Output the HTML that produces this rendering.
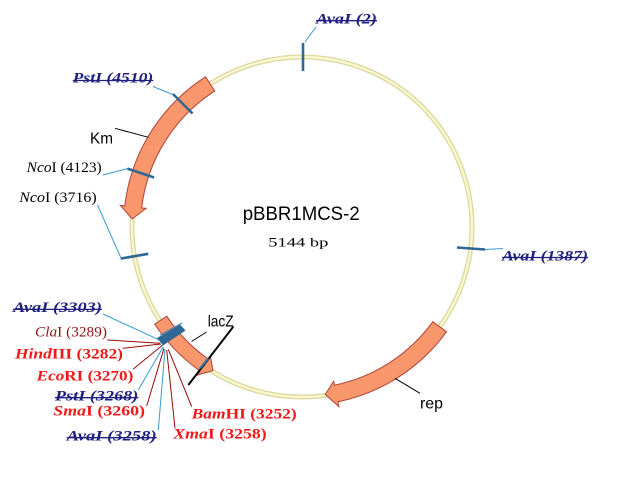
<!DOCTYPE html>
<html><head><meta charset="utf-8"><style>
html,body{margin:0;padding:0;background:#fff;}
svg{display:block}
</style></head>
<body>
<svg width="633" height="479" viewBox="0 0 633 479" xmlns="http://www.w3.org/2000/svg">
<rect width="633" height="479" fill="#fff"/>
<!-- ring -->
<circle cx="302" cy="227" r="170" fill="none" stroke="#dcd89e" stroke-width="5"/>
<circle cx="302" cy="227" r="170" fill="none" stroke="#f9f7d0" stroke-width="2.4"/>

<!-- arrows -->
<g fill="#f8976b" stroke="#b0443a" stroke-width="1" stroke-linejoin="miter">
<path d="M 205.57 76.79 A 178.5 178.5 0 0 0 124.75 205.87 L 120.29 205.33 L 132.19 218.99 L 146.10 208.41 L 141.64 207.88 A 161.5 161.5 0 0 1 214.76 91.10 Z"/>
<path d="M 432.79 321.71 A 161.5 161.5 0 0 1 334.47 385.20 L 333.67 381.28 L 325.23 394.40 L 338.90 406.75 L 337.89 401.86 A 178.5 178.5 0 0 0 446.56 331.69 Z"/>
<path d="M 154.65 324.16 A 176.5 176.5 0 0 0 200.01 371.05 L 197.12 375.13 L 212.94 370.63 L 210.41 356.36 L 208.39 359.21 A 162 162 0 0 1 166.75 316.18 Z"/>
</g>

<!-- light blue leaders -->
<g stroke="#3a9ad0" stroke-width="1" fill="none">
<line x1="305" y1="42" x2="316" y2="27"/>
<line x1="153" y1="86.5" x2="174" y2="95"/>
<line x1="103" y1="175" x2="128" y2="168.5"/>
<line x1="97.5" y1="205" x2="121" y2="258"/>
<line x1="485" y1="249.5" x2="503" y2="248.5"/>
<line x1="103" y1="314" x2="163" y2="341.7"/>
<line x1="138.3" y1="390" x2="163.3" y2="346.7"/>
<line x1="158.3" y1="430" x2="165" y2="349.3"/>
</g>
<!-- dark red leaders -->
<g stroke="#9a0a0a" stroke-width="1" fill="none">
<line x1="107.3" y1="340" x2="160" y2="343.3"/>
<line x1="122.7" y1="348.3" x2="161" y2="344"/>
<line x1="133.3" y1="369" x2="162.7" y2="345"/>
<line x1="146.7" y1="406" x2="164" y2="348.3"/>
<line x1="175" y1="428.3" x2="166.7" y2="350"/>
<line x1="191.7" y1="406.7" x2="168.3" y2="349.3"/>
</g>
<!-- black leaders -->
<g stroke="#000" stroke-width="1" fill="none">
<line x1="115" y1="128.3" x2="148.3" y2="137.3"/>
<line x1="206.5" y1="332" x2="191.5" y2="341.5"/>
<line x1="395" y1="378.3" x2="420" y2="393.3"/>
</g>
<line x1="233.3" y1="326.7" x2="188.3" y2="385" stroke="#000" stroke-width="2"/>
<line x1="200" y1="368.3" x2="208.3" y2="358.3" stroke="#2f79b0" stroke-width="2"/>

<!-- ticks -->
<g stroke="#2f6797" stroke-width="2.6" fill="none">
<line x1="303" y1="43" x2="303" y2="71"/>
<line x1="173" y1="94" x2="192.5" y2="113.5"/>
<line x1="127.5" y1="168.6" x2="154.1" y2="177.5"/>
<line x1="120.7" y1="258.6" x2="148.3" y2="253.8"/>
<line x1="457" y1="247.5" x2="485" y2="249.5"/>
</g>
<polygon points="157,338 180,324.5 185.5,330.5 163,345.5" fill="#2f6797"/>
<line x1="160" y1="335" x2="182" y2="323" stroke="#4a86b8" stroke-width="1"/>

<!-- center text -->
<text x="242.7" y="220" font-family="Liberation Sans, sans-serif" font-size="19" textLength="117" lengthAdjust="spacingAndGlyphs" fill="#000">pBBR1MCS-2</text>
<text x="268.3" y="246.5" font-family="Liberation Serif, serif" font-size="13" textLength="60" lengthAdjust="spacingAndGlyphs" fill="#000">5144 bp</text>

<!-- gene labels -->
<g font-family="Liberation Sans, sans-serif" fill="#000">
<text x="90" y="143.3" font-size="16" textLength="23" lengthAdjust="spacingAndGlyphs">Km</text>
<text x="207.7" y="326.7" font-size="16" textLength="26" lengthAdjust="spacingAndGlyphs">lacZ</text>
<text x="420" y="408.5" font-size="16" textLength="23" lengthAdjust="spacingAndGlyphs">rep</text>
</g>

<!-- site labels -->
<g font-family="Liberation Serif, serif" font-size="15">
<!-- navy struck -->
<g fill="#1f2080" font-weight="bold" font-style="italic">
<text x="316" y="23.3" textLength="61" lengthAdjust="spacingAndGlyphs">AvaI (2)</text>
<text x="72.7" y="82.7" textLength="80.6" lengthAdjust="spacingAndGlyphs">PstI (4510)</text>
<text x="502" y="260.3" textLength="86" lengthAdjust="spacingAndGlyphs">AvaI (1387)</text>
<text x="13" y="312" textLength="89" lengthAdjust="spacingAndGlyphs">AvaI (3303)</text>
<text x="55" y="400.3" textLength="83.3" lengthAdjust="spacingAndGlyphs">PstI (3268)</text>
<text x="66.7" y="440.3" textLength="90" lengthAdjust="spacingAndGlyphs">AvaI (3258)</text>
</g>
<g stroke="#1f2080" stroke-width="1.3">
<line x1="316" y1="20.7" x2="377" y2="20.7"/>
<line x1="72.7" y1="80.5" x2="153.3" y2="80.5"/>
<line x1="502" y1="257.5" x2="588" y2="257.5"/>
<line x1="13" y1="309.4" x2="102" y2="309.4"/>
<line x1="55" y1="397.7" x2="138.3" y2="397.7"/>
<line x1="66.7" y1="437.7" x2="156.7" y2="437.7"/>
</g>
<!-- black NcoI -->
<g fill="#000">
<text x="26.7" y="172" textLength="75" lengthAdjust="spacingAndGlyphs"><tspan font-style="italic">Nco</tspan>I (4123)</text>
<text x="19.3" y="202" textLength="77.4" lengthAdjust="spacingAndGlyphs"><tspan font-style="italic">Nco</tspan>I (3716)</text>
</g>
<!-- maroon ClaI -->
<text x="35" y="336.7" fill="#8b1616" textLength="72" lengthAdjust="spacingAndGlyphs"><tspan font-style="italic">Cla</tspan>I (3289)</text>
<!-- red bold -->
<g fill="#f01818" font-weight="bold">
<text x="15" y="358.7" textLength="108" lengthAdjust="spacingAndGlyphs"><tspan font-style="italic">Hind</tspan>III (3282)</text>
<text x="36.7" y="380.3" textLength="96.6" lengthAdjust="spacingAndGlyphs"><tspan font-style="italic">Eco</tspan>RI (3270)</text>
<text x="53.3" y="415.7" textLength="91.7" lengthAdjust="spacingAndGlyphs"><tspan font-style="italic">Sma</tspan>I (3260)</text>
<text x="173.3" y="438.7" textLength="93.4" lengthAdjust="spacingAndGlyphs"><tspan font-style="italic">Xma</tspan>I (3258)</text>
<text x="191.7" y="418.7" textLength="105" lengthAdjust="spacingAndGlyphs"><tspan font-style="italic">Bam</tspan>HI (3252)</text>
</g>
</g>
</svg>
</body></html>
